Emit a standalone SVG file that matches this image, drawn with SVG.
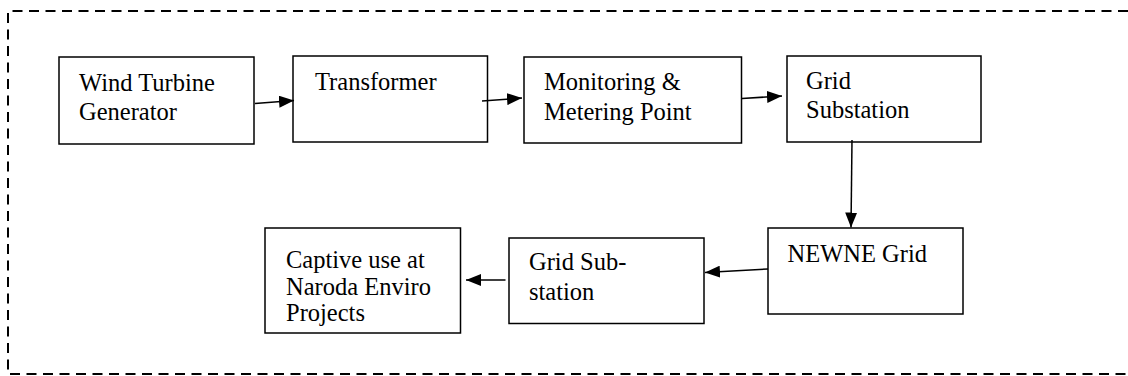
<svg xmlns="http://www.w3.org/2000/svg" width="1128" height="376" viewBox="0 0 1128 376">
  <style>
    .box { fill: #ffffff; stroke: #000000; stroke-width: 1.5; }
    .label { font-family: "Liberation Serif", "Times New Roman", serif; font-size: 24.5px; fill: #000000; }
    .wire { fill: none; stroke: #000000; stroke-width: 1.5; }
    .frame { fill: none; stroke: #000000; stroke-width: 2; stroke-dasharray: 10 6.5; }
  </style>
  <defs>
    <marker id="arrow" viewBox="0 0 15 12" refX="15" refY="6" markerWidth="15" markerHeight="12" markerUnits="userSpaceOnUse" orient="auto">
      <path d="M0,0 L15,6 L0,12 Z" fill="#000000"/>
    </marker>
  </defs>

  <rect width="1128" height="376" fill="#ffffff"/>

  <!-- dashed boundary (right side runs off the canvas) -->
  <path class="frame" d="M1128,11 H8 V374 H1128"/>

  <g id="wind-turbine-generator">
    <rect class="box" x="59" y="57" width="195" height="87"/>
    <text class="label" x="79" y="91">Wind Turbine</text>
    <text class="label" x="79" y="119.5">Generator</text>
  </g>

  <g id="transformer">
    <rect class="box" x="293" y="56" width="194.5" height="86"/>
    <text class="label" x="315" y="90">Transformer</text>
  </g>

  <g id="monitoring-metering">
    <rect class="box" x="524" y="57" width="217.5" height="86"/>
    <text class="label" x="544" y="90">Monitoring &amp;</text>
    <text class="label" x="544" y="119.5">Metering Point</text>
  </g>

  <g id="grid-substation-1">
    <rect class="box" x="787" y="56" width="194" height="86"/>
    <text class="label" x="806" y="88.5">Grid</text>
    <text class="label" x="806" y="118">Substation</text>
  </g>

  <g id="newne-grid">
    <rect class="box" x="768" y="228" width="195" height="86"/>
    <text class="label" x="787.5" y="261.5">NEWNE Grid</text>
  </g>

  <g id="grid-substation-2">
    <rect class="box" x="509" y="238" width="195" height="85.5"/>
    <text class="label" x="529" y="270">Grid Sub-</text>
    <text class="label" x="529" y="300">station</text>
  </g>

  <g id="captive-use">
    <rect class="box" x="265" y="228" width="195.5" height="105"/>
    <text class="label" x="286" y="268">Captive use at</text>
    <text class="label" x="286" y="294.5">Naroda Enviro</text>
    <text class="label" x="286" y="321">Projects</text>
  </g>

  <g id="connectors">
    <line class="wire" x1="255" y1="103.5" x2="294" y2="100.5" marker-end="url(#arrow)"/>
    <line class="wire" x1="482" y1="101" x2="522" y2="98" marker-end="url(#arrow)"/>
    <line class="wire" x1="742" y1="98.5" x2="782" y2="96" marker-end="url(#arrow)"/>
    <line class="wire" x1="852" y1="140" x2="851" y2="227.5" marker-end="url(#arrow)"/>
    <line class="wire" x1="768" y1="269" x2="705" y2="272.5" marker-end="url(#arrow)"/>
    <line class="wire" x1="505.5" y1="280" x2="466" y2="280" marker-end="url(#arrow)"/>
  </g>
</svg>
